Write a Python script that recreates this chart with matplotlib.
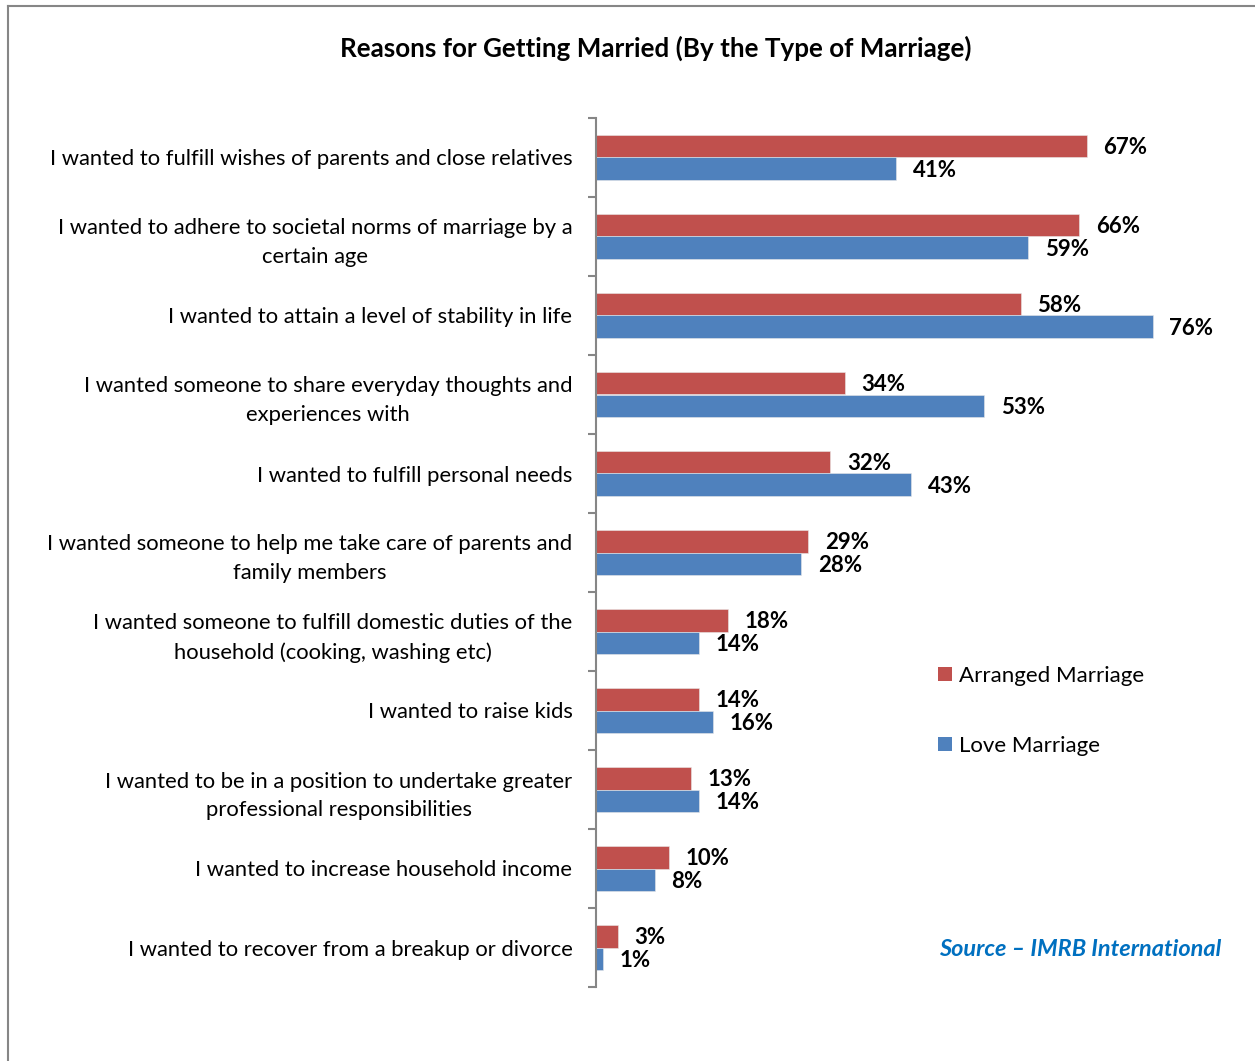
import matplotlib
matplotlib.use("Agg")
import matplotlib.pyplot as plt
from matplotlib.lines import Line2D
from matplotlib.patches import Patch

plt.rcParams['font.family'] = ['Lato', 'DejaVu Sans']

categories = [
    "I wanted to fulfill wishes of parents and close relatives",
    "I wanted to adhere to societal norms of marriage by a\ncertain age",
    "I wanted to attain a level of stability in life",
    "I wanted someone to share everyday thoughts and\nexperiences with",
    "I wanted to fulfill personal needs",
    "I wanted someone to help me take care of parents and\nfamily members",
    "I wanted someone to fulfill domestic duties of the\nhousehold (cooking, washing etc)",
    "I wanted to raise kids",
    "I wanted to be in a position to undertake greater\nprofessional responsibilities",
    "I wanted to increase household income",
    "I wanted to recover from a breakup or divorce",
]
arranged = [67, 66, 58, 34, 32, 29, 18, 14, 13, 10, 3]
love = [41, 59, 76, 53, 43, 28, 14, 16, 14, 8, 1]
series_names = ["Arranged Marriage", "Love Marriage"]

RED = "#C0504D"
BLUE = "#4F81BD"
W, H = 1255, 1061

fig = plt.figure(figsize=(W / 100, H / 100), dpi=100)
ax = fig.add_axes([596 / W, (H - 987) / H, 586 / W, 869 / H])

n = len(categories)
pos = list(range(n))
bh = 0.29
ax.barh([p - bh / 2 for p in pos], arranged, height=bh, color=RED,
        edgecolor="#e8e8e8", linewidth=0.4)
ax.barh([p + bh / 2 for p in pos], love, height=bh, color=BLUE,
        edgecolor="#e8e8e8", linewidth=0.4)

ax.set_xlim(0, 80)
ax.set_ylim(n - 0.5, -0.5)

for p, a, l in zip(pos, arranged, love):
    ax.annotate(f"{a}%", (a, p - bh / 2), xytext=(12, -0.8), textcoords="offset points",
                va="center", ha="left", fontsize=16, fontweight="bold")
    ax.annotate(f"{l}%", (l, p + bh / 2), xytext=(12, -0.8), textcoords="offset points",
                va="center", ha="left", fontsize=16, fontweight="bold")

for s in ["top", "right", "bottom"]:
    ax.spines[s].set_visible(False)
ax.spines["left"].set_color("#868686")
ax.spines["left"].set_linewidth(1.5)
ax.set_xticks([])

ax.set_yticks(pos)
ax.set_yticklabels(categories, fontsize=15.8, ha="right", multialignment="center",
                   linespacing=1.55)
ax.tick_params(axis="y", which="major", length=0, pad=17)
ax.set_yticks([p - 0.5 for p in range(n + 1)], minor=True)
ax.tick_params(axis="y", which="minor", length=6, width=1.5, color="#868686")

fig.text(656 / W, 1 - 48 / H, "Reasons for Getting Married (By the Type of Marriage)",
         ha="center", va="center", fontsize=18.7, fontweight="bold")

handles = [Patch(facecolor=RED), Patch(facecolor=BLUE)]
fig.legend(handles, series_names, loc="upper left",
           bbox_to_anchor=(929 / W, 1 - 657 / H), frameon=False,
           fontsize=16, handlelength=0.65, handleheight=0.65, handletextpad=0.3,
           labelspacing=2.25, borderaxespad=0)

fig.text(939 / W, 1 - 950 / H, "Source \u2013 IMRB International", ha="left", va="center",
         fontsize=16.9, fontweight="bold", fontstyle="italic", color="#0070C0")

# chart frame (left and top edges)
fig.add_artist(Line2D([8 / W, 8 / W], [0, 1 - 6 / H], transform=fig.transFigure,
                      color="#868686", linewidth=1.5))
fig.add_artist(Line2D([8 / W, 1], [1 - 6 / H, 1 - 6 / H], transform=fig.transFigure,
                      color="#868686", linewidth=1.5))

fig.savefig("out.png", dpi=100, facecolor="white")
